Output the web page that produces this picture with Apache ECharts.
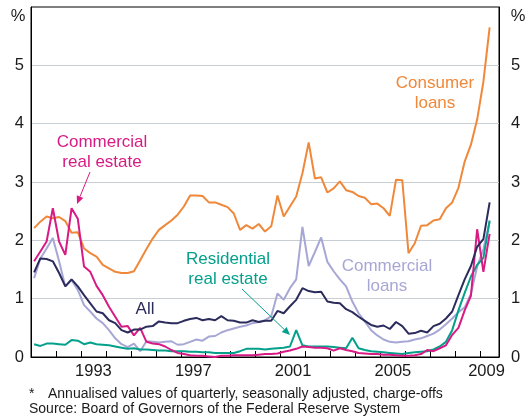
<!DOCTYPE html>
<html><head><meta charset="utf-8">
<script src="https://cdn.jsdelivr.net/npm/echarts@6/dist/echarts.min.js"></script>
<style>html,body{margin:0;padding:0;background:#fff}#c{width:529px;height:418px}</style>
</head><body><div id="c"></div>
<script>
// Quarterly observations, 1991 Q1 to 2009 Q2
const startYear = 1991;
const quarterCount = 74;
const quarters = [];
for (let i = 0; i < quarterCount; i++) {
  const y = startYear + Math.floor(i / 4), q = (i % 4) + 1;
  quarters.push(y + (q - 0.5) / 4);
}
const consumerLoans = [
  2.21, 2.32, 2.41, 2.38, 2.40, 2.33, 2.13, 2.14, 1.86, 1.78,
  1.72, 1.58, 1.52, 1.46, 1.44, 1.44, 1.47, 1.66, 1.85, 2.03,
  2.18, 2.26, 2.34, 2.44, 2.58, 2.77, 2.77, 2.76, 2.65, 2.65,
  2.61, 2.57, 2.46, 2.18, 2.26, 2.20, 2.28, 2.15, 2.24, 2.77,
  2.41, 2.58, 2.75, 3.15, 3.68, 3.06, 3.08, 2.82, 2.89, 3.01,
  2.86, 2.83, 2.76, 2.73, 2.62, 2.63, 2.55, 2.42, 3.04, 3.03,
  1.78, 1.95, 2.25, 2.26, 2.34, 2.36, 2.55, 2.65, 2.90, 3.35,
  3.64, 4.07, 4.72, 5.65];
const commercialRealEstate = [
  1.64, 1.81, 1.98, 2.55, 1.98, 1.75, 2.55, 2.37, 1.55, 1.46,
  1.22, 1.06, 0.86, 0.69, 0.52, 0.53, 0.37, 0.50, 0.26, 0.23,
  0.22, 0.18, 0.12, 0.07, 0.05, 0.03, 0.02, 0.02, 0.01, 0.00,
  0.02, 0.02, 0.03, 0.03, 0.03, 0.03, 0.04, 0.05, 0.05, 0.06,
  0.09, 0.11, 0.14, 0.18, 0.17, 0.16, 0.16, 0.15, 0.11, 0.15,
  0.12, 0.10, 0.07, 0.06, 0.05, 0.05, 0.04, 0.04, 0.03, 0.02,
  0.02, 0.03, 0.05, 0.12, 0.10, 0.15, 0.20, 0.38, 0.50, 0.80,
  1.05, 2.19, 1.46, 2.11];
const residentialRealEstate = [
  0.22, 0.19, 0.23, 0.23, 0.22, 0.21, 0.29, 0.28, 0.22, 0.25,
  0.22, 0.21, 0.20, 0.18, 0.16, 0.14, 0.15, 0.13, 0.13, 0.12,
  0.11, 0.11, 0.10, 0.10, 0.10, 0.09, 0.09, 0.08, 0.08, 0.07,
  0.07, 0.07, 0.07, 0.10, 0.14, 0.14, 0.14, 0.13, 0.14, 0.15,
  0.16, 0.18, 0.46, 0.20, 0.18, 0.18, 0.18, 0.18, 0.17, 0.16,
  0.15, 0.33, 0.15, 0.12, 0.10, 0.09, 0.08, 0.07, 0.06, 0.05,
  0.07, 0.08, 0.09, 0.10, 0.13, 0.18, 0.26, 0.46, 0.80, 1.10,
  1.38, 1.58, 1.70, 2.34];
const commercialLoans = [
  1.35, 1.69, 1.86, 2.04, 1.64, 1.21, 1.32, 1.15, 0.89, 0.78,
  0.66, 0.58, 0.46, 0.32, 0.22, 0.17, 0.23, 0.10, 0.27, 0.26,
  0.25, 0.26, 0.27, 0.21, 0.22, 0.26, 0.30, 0.28, 0.35, 0.36,
  0.42, 0.46, 0.49, 0.52, 0.54, 0.58, 0.60, 0.63, 0.70, 1.09,
  0.98, 1.18, 1.33, 2.23, 1.56, 1.80, 2.05, 1.63, 1.47, 1.33,
  1.21, 0.95, 0.75, 0.61, 0.46, 0.37, 0.30, 0.26, 0.25, 0.26,
  0.27, 0.30, 0.32, 0.36, 0.40, 0.47, 0.56, 0.66, 0.77, 0.85,
  1.08, 1.55, 1.85, 2.32];
const allLoans = [
  1.45, 1.69, 1.68, 1.64, 1.44, 1.21, 1.33, 1.21, 1.06, 0.92,
  0.78, 0.75, 0.63, 0.58, 0.46, 0.42, 0.47, 0.47, 0.52, 0.53,
  0.61, 0.59, 0.58, 0.58, 0.62, 0.65, 0.67, 0.63, 0.65, 0.63,
  0.70, 0.63, 0.62, 0.59, 0.59, 0.63, 0.60, 0.62, 0.62, 0.79,
  0.75, 0.87, 0.98, 1.18, 1.13, 1.11, 1.12, 0.95, 0.93, 0.92,
  0.82, 0.77, 0.69, 0.62, 0.55, 0.52, 0.54, 0.48, 0.60, 0.53,
  0.40, 0.41, 0.45, 0.42, 0.53, 0.57, 0.66, 0.78, 1.06, 1.33,
  1.56, 1.89, 2.02, 2.65];
const tickYears = [1992,1993,1994,1995,1996,1997,1998,1999,2000,2001,2002,2003,2004,2005,2006,2007,2008,2009];
const labelYears = [1993, 1997, 2001, 2005, 2009];
const footnoteMark = '*';
const footnote = 'Annualised values of quarterly, seasonally adjusted, charge-offs';
const source = 'Source: Board of Governors of the Federal Reserve System';

const X_MIN = 1991, X_MAX = 2009.75;
const FONT = '"Liberation Sans", Arial, sans-serif';
const C = {
  consumer: '#F0883A', cre: '#D81B84', res: '#05A08C', cl: '#A7A7D6', all: '#2B2B5C'
};
const pair = arr => quarters.map((x, i) => [x, arr[i]]);
const labelPos = labelYears.map(y => Math.min(y + 0.5, X_MAX - 0.5));

function line(name, arr, color, z) {
  return { name, type: 'line', data: pair(arr), showSymbol: false, symbol: 'none',
    lineStyle: { color, width: 2 }, itemStyle: { color }, z, animation: false };
}
function arrow(x1, y1, x2, y2, color) {
  const a = Math.atan2(y2 - y1, x2 - x1), L = 8, W = 3.5;
  const bx = x2 - L * Math.cos(a), by = y2 - L * Math.sin(a);
  const px = -Math.sin(a) * W, py = Math.cos(a) * W;
  return [
    { type: 'line', shape: { x1, y1, x2: bx, y2: by }, style: { stroke: color, lineWidth: 1 }, z: 50 },
    { type: 'polygon', shape: { points: [[x2, y2], [bx + px, by + py], [bx - px, by - py]] }, style: { fill: color }, z: 50 }
  ];
}
function txt(x, y, text, color, size, align) {
  return { type: 'text', x, y, z: 50, style: { text, fill: color, font: size + 'px ' + FONT,
    textAlign: align || 'center', textVerticalAlign: 'middle', lineHeight: 20 } };
}

const chart = echarts.init(document.getElementById('c'), null, { renderer: 'canvas' });
const yAxisBase = {
  type: 'value', min: 0, max: 6, interval: 1,
  axisLine: { show: true, lineStyle: { color: '#000', width: 1 } },
  axisTick: { show: false },
  axisLabel: { color: '#1a1a1a', fontSize: 16.5, fontFamily: FONT,
    formatter: v => (v === 6 ? '' : String(v)) }
};
chart.setOption({
  animation: false,
  backgroundColor: '#fff',
  grid: { left: 31, right: 30, top: 7, bottom: 61, show: true, borderColor: '#000', borderWidth: 1, backgroundColor: 'transparent' },
  xAxis: [{
    type: 'value', min: X_MIN, max: X_MAX,
    axisLine: { show: true, lineStyle: { color: '#000', width: 1 } },
    axisTick: { show: true, inside: true, length: 6, lineStyle: { color: '#000' }, customValues: tickYears },
    axisLabel: { show: true, color: '#1a1a1a', fontSize: 16.5, fontFamily: FONT, margin: 6,
      customValues: labelPos, formatter: v => String(Math.floor(v + 1e-6)) },
    splitLine: { show: false }
  }],
  yAxis: [
    Object.assign({}, yAxisBase, { position: 'left',
      axisLabel: Object.assign({}, yAxisBase.axisLabel, { margin: 7 }),
      splitLine: { show: true, showMinLine: false, showMaxLine: false, lineStyle: { color: '#c9ced2', width: 1 } } }),
    Object.assign({}, yAxisBase, { position: 'right',
      axisLabel: Object.assign({}, yAxisBase.axisLabel, { margin: 12 }),
      splitLine: { show: false } })
  ],
  series: [
    line('Consumer loans', consumerLoans, C.consumer, 2),
    line('Commercial loans', commercialLoans, C.cl, 3),
    line('Residential real estate', residentialRealEstate, C.res, 4),
    line('Commercial real estate', commercialRealEstate, C.cre, 5),
    line('All', allLoans, C.all, 6)
  ],
  graphic: [
    txt(18, 16, '%', '#1a1a1a', 16.5),
    txt(518, 16, '%', '#1a1a1a', 16.5),
    txt(435, 93, 'Consumer\nloans', C.consumer, 17),
    txt(102, 152, 'Commercial\nreal estate', C.cre, 17),
    txt(228, 269, 'Residential\nreal estate', C.res, 17),
    txt(145, 309, 'All', C.all, 17),
    txt(387, 276, 'Commercial\nloans', C.cl, 17),
    ...arrow(90, 172, 77, 204, C.cre),
    ...arrow(242, 289, 290, 335, C.res),
    txt(29, 394, footnoteMark, '#1a1a1a', 14, 'left'),
    txt(48, 394, footnote, '#1a1a1a', 14, 'left'),
    txt(29, 409, source, '#1a1a1a', 14, 'left')
  ]
});
</script></body></html>
